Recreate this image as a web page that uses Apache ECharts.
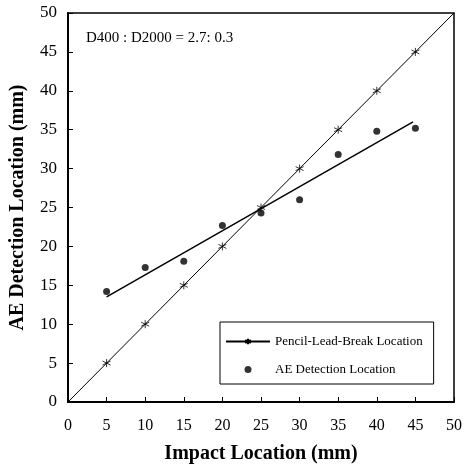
<!DOCTYPE html>
<html><head><meta charset="utf-8">
<script src="https://cdn.jsdelivr.net/npm/echarts@6/dist/echarts.min.js"></script>
<style>html,body{margin:0;padding:0;background:#fff}#c{width:465px;height:465px}</style>
</head><body><div id="c"></div>
<script>
var impactX = [5, 10, 15, 20, 25, 30, 35, 40, 45];
var pencilY = [5, 10, 15, 20, 25, 30, 35, 40, 45];
var aeY = [14.2, 17.3, 18.1, 22.7, 24.3, 26.0, 31.8, 34.8, 35.2];
var diagX = [0, 50];
var diagY = [0, 50];
var fitX = [5, 44.7];
var fitY = [13.5, 36.0];
var axisTicks = [0, 5, 10, 15, 20, 25, 30, 35, 40, 45, 50];
var annotation = 'D400 : D2000 = 2.7: 0.3';

var FONT = "'Liberation Serif','Times New Roman',serif";
var star = 'path://M0,-10L0,10M-8.66,-5L8.66,5M-8.66,5L8.66,-5';

var pencilData = [{value: [diagX[0], diagY[0]], symbol: 'none'}];
impactX.forEach(function (x, i) { pencilData.push([x, pencilY[i]]); });
pencilData.push({value: [diagX[1], diagY[1]], symbol: 'none'});

var chart = echarts.init(document.getElementById('c'), null, {renderer: 'canvas'});
chart.setOption({
  animation: false,
  backgroundColor: '#fff',
  title: {
    text: annotation, left: 81, top: 26,
    textStyle: {fontFamily: FONT, fontSize: 15, fontWeight: 'normal', color: '#000'}
  },
  grid: {left: 68, right: 11, top: 13, bottom: 63, containLabel: false, outerBoundsMode: 'none',
    show: true, borderColor: '#000', borderWidth: 1.5, backgroundColor: 'transparent'},
  legend: {
    orient: 'vertical', left: 220, top: 322,
    data: ['Pencil-Lead-Break Location', 'AE Detection Location'],
    itemWidth: 44, itemHeight: 7, itemGap: 15,
    padding: [13, 11, 8, 5],
    borderColor: '#000', borderWidth: 1, backgroundColor: '#fff',
    textStyle: {fontFamily: FONT, fontSize: 13, color: '#000'}
  },
  xAxis: {
    type: 'value', min: 0, max: 50, interval: 5,
    name: 'Impact Location (mm)', nameLocation: 'middle', nameGap: 42,
    nameTextStyle: {fontFamily: FONT, fontSize: 20, fontWeight: 'bold', color: '#000'},
    axisLine: {show: true, onZero: false, lineStyle: {color: '#000', width: 2}},
    axisTick: {show: true, inside: true, length: 5, lineStyle: {color: '#000', width: 1}},
    axisLabel: {fontFamily: FONT, fontSize: 16, color: '#000', margin: 16,
      formatter: function (v) { return axisTicks.indexOf(v) >= 0 ? String(v) : ''; }},
    splitLine: {show: false}
  },
  yAxis: {
    type: 'value', min: 0, max: 50, interval: 5,
    name: 'AE Detection Location (mm)', nameLocation: 'middle', nameGap: 40,
    nameTextStyle: {fontFamily: FONT, fontSize: 20, fontWeight: 'bold', color: '#000'},
    axisLine: {show: true, onZero: false, lineStyle: {color: '#000', width: 2}},
    axisTick: {show: true, inside: true, length: 5, lineStyle: {color: '#000', width: 1}},
    axisLabel: {fontFamily: FONT, fontSize: 17, color: '#000', margin: 11,
      formatter: function (v) { return axisTicks.indexOf(v) >= 0 ? String(v) : ''; }},
    splitLine: {show: false}
  },
  series: [
    {
      name: 'Pencil-Lead-Break Location', type: 'line', data: pencilData,
      symbol: star, symbolSize: 8, showAllSymbol: true,
      lineStyle: {color: '#000', width: 1},
      itemStyle: {color: '#000', borderColor: '#000', borderWidth: 0.8}
    },
    {
      name: 'AE Detection Location', type: 'scatter',
      data: impactX.map(function (x, i) { return [x, aeY[i]]; }),
      symbol: 'circle', symbolSize: 7,
      itemStyle: {color: '#000'}
    },
    {
      name: 'fit', type: 'line',
      data: fitX.map(function (x, i) { return [x, fitY[i]]; }),
      symbol: 'none', lineStyle: {color: '#000', width: 1.5}
    }
  ]
});
</script></body></html>
